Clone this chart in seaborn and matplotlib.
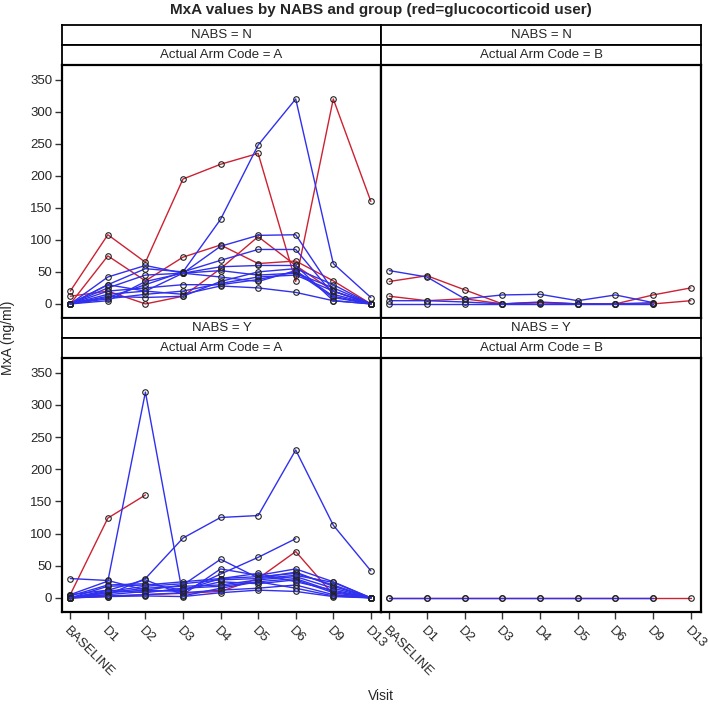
import numpy as np
import pandas as pd
import matplotlib
matplotlib.use("Agg")
import matplotlib.pyplot as plt
import seaborn as sns

visits = ["BASELINE", "D1", "D2", "D3", "D4", "D5", "D6", "D9", "D13"]
nabs_levels = ["N", "Y"]
arm_levels = ["A", "B"]
N = None

# NABS = N, Arm = A
n_a_red = [
    [20, 108, 65, 195, 218, 235, 35, 320, 160],
    [0, 75, 36, 73, 92, 63, 67, 36, 0],
    [12, 20, 0, 12, 55, 105, 60, 20, 0],
]
n_a_blue = [
    [0, 10, 30, 50, 132, 248, 320, 63, 10],
    [0, 42, 60, 48, 90, 107, 108, 20, 0],
    [0, 30, 55, 50, 68, 85, 85, 15, 0],
    [0, 25, 45, 48, 52, 45, 48, 25, 0],
    [0, 20, 25, 30, 30, 38, 50, 10, 0],
    [0, 15, 20, 15, 28, 25, 18, 5, 0],
    [0, 12, 10, 12, 35, 50, 55, 30, 0],
    [0, 8, 15, 20, 32, 42, 45, 20, 0],
    [0, 5, 35, 48, 58, 60, 60, 5, 0],
    [0, 30, 20, 48, 42, 35, 52, 12, 0],
]
# NABS = N, Arm = B
n_b_red = [
    [35, 44, 22, 0, 2, 0, 0, 14, 25],
    [12, 5, 8, 0, 2, 0, 0, 0, 5],
]
n_b_blue = [
    [52, 42, 8, 14, 15, 5, 14, 2, N],
    [5, 5, 3, 0, 3, 0, 0, 2, N],
    [0, 0, 0, 0, 0, 0, 0, 0, N],
]
# NABS = Y, Arm = A
y_a_red = [
    [5, 124, 160, N, N, N, N, N, N],
    [0, 2, 5, 7, 10, 30, 72, 5, 0],
]
y_a_blue = [
    [5, 26, 320, 3, 15, 25, 30, 10, 0],
    [0, 5, 30, 93, 125, 128, 230, 113, 42],
    [0, 8, 12, 10, 37, 63, 92, N, N],
    [30, 27, 12, 20, 60, 31, 40, 18, 0],
    [5, 12, 28, 5, 45, 35, 45, 25, 0],
    [0, 18, 20, 25, 30, 33, 38, 20, 0],
    [0, 8, 15, 18, 20, 28, 33, 15, 0],
    [0, 5, 10, 12, 25, 22, 28, 8, 0],
    [0, 3, 5, 8, 12, 15, 20, 5, 0],
    [0, 12, 8, 15, 18, 25, 15, 3, 0],
    [3, 20, 22, 12, 30, 38, 25, 12, 0],
    [0, 2, 3, 2, 8, 12, 10, 2, 0],
    [0, 10, 18, 22, 28, 30, 35, 24, 0],
]
# NABS = Y, Arm = B
y_b_red = [[0, 0, 0, 0, 0, 0, 0, 0, 0]]
y_b_blue = [[0, 0, 0, 0, 0, 0, 0, 0, N]]

panels = {
    ("N", "A"): (n_a_red, n_a_blue),
    ("N", "B"): (n_b_red, n_b_blue),
    ("Y", "A"): (y_a_red, y_a_blue),
    ("Y", "B"): (y_b_red, y_b_blue),
}

rows = []
sid = 0
for (nabs, arm), (reds, blues) in panels.items():
    for grp, lst in (("gluco", reds), ("other", blues)):
        for s in lst:
            sid += 1
            for vi, val in enumerate(s):
                if val is not None:
                    rows.append(dict(NABS=nabs, Arm=arm, grp=grp, subj=sid, vis=vi, MxA=val))
df = pd.DataFrame(rows)

sns.set_theme(style="ticks")
plt.rcParams["font.family"] = ["Liberation Sans", "DejaVu Sans"]

pal = {"gluco": "#CC2233", "other": "#3030EE"}
layer = {"gluco": 2, "other": 3}

W, H = 708, 706
fig = plt.figure(figsize=(W / 100, H / 100), dpi=100)


def fax(x0, y0, x1, y1):
    return fig.add_axes([x0 / W, 1 - y1 / H, (x1 - x0) / W, (y1 - y0) / H])


cols = [(62, 381), (381, 701)]
plot_rows = [(65, 318), (358, 612)]
head_rows = [[(25, 45), (45, 65)], [(318, 338), (338, 358)]]

for r, nabs in enumerate(nabs_levels):
    for c, arm in enumerate(arm_levels):
        x0, x1 = cols[c]
        # headers
        for k, (hy0, hy1) in enumerate(head_rows[r]):
            hax = fax(x0, hy0, x1, hy1)
            hax.set_xticks([]); hax.set_yticks([])
            for sp in hax.spines.values():
                sp.set_linewidth(1.3); sp.set_color("black")
            txt = f"NABS = {nabs}" if k == 0 else f"Actual Arm Code = {arm}"
            hax.text(0.5, 0.5, txt, ha="center", va="center", fontsize=9.5,
                     transform=hax.transAxes)
        y0, y1 = plot_rows[r]
        ax = fax(x0, y0, x1, y1)
        for grp in ["gluco", "other"]:
            sub = df[(df.NABS == nabs) & (df.Arm == arm) & (df.grp == grp)]
            sns.lineplot(data=sub, x="vis", y="MxA", units="subj",
                         estimator=None, color=pal[grp],
                         marker="o", markersize=4, markerfacecolor="none",
                         markeredgecolor="#222222", markeredgewidth=0.8,
                         linewidth=1.0, legend=False, sort=False, ax=ax,
                         zorder=layer[grp])
        ax.set_xlim(-0.22, 8.27)
        ax.set_ylim(-22, 373)
        ax.set_xticks(range(len(visits)))
        ax.set_yticks(range(0, 351, 50))
        ax.set_xlabel(""); ax.set_ylabel("")
        for sp in ax.spines.values():
            sp.set_visible(True); sp.set_linewidth(1.6); sp.set_color("black")
        ax.tick_params(axis="both", direction="out", length=5, width=1,
                       color="#333333", labelsize=9.5, pad=2)
        if c != 0:
            ax.tick_params(axis="y", left=False, labelleft=False)
        if r == 0:
            ax.tick_params(axis="x", bottom=False, labelbottom=False)
        else:
            ax.tick_params(axis="x", pad=4)
            ax.set_xticklabels(visits, rotation=-45, ha="left", va="top",
                               rotation_mode="anchor")

fig.text(381 / W, 1 - 10 / H, "MxA values by NABS and group (red=glucocorticoid user)",
         ha="center", va="center", fontsize=11, fontweight="bold")
fig.text(8 / W, 1 - 338 / H, "MxA (ng/ml)", rotation=90, ha="center", va="center", fontsize=10)
fig.text(381 / W, 1 - 696 / H, "Visit", ha="center", va="center", fontsize=10)

fig.savefig("out.png", dpi=100)
